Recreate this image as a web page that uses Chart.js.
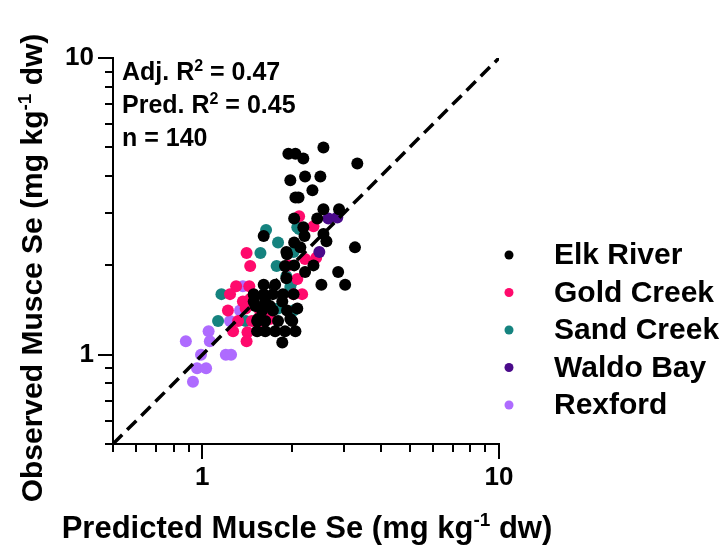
<!DOCTYPE html>
<html>
<head>
<meta charset="utf-8">
<script src="https://cdn.jsdelivr.net/npm/chart.js@4/dist/chart.umd.min.js"></script>
<style>
  html, body { margin: 0; padding: 0; background: #ffffff; }
  #c { display: block; }
</style>
</head>
<body>
<canvas id="c" width="725" height="549"></canvas>
<script>
// Site names and marker colours
const siteNames  = ['Elk River', 'Gold Creek', 'Sand Creek', 'Waldo Bay', 'Rexford'];
const siteColors = ['#000000', '#FF0A6C', '#15837F', '#4A0A8A', '#AE6BFF'];

// Predicted vs observed muscle Se (mg kg-1 dw), one pair of arrays per site
const elkPredicted = [2.56,1.95,2.06,2.19,3.33,1.98,2.22,2.50,2.35,2.06,2.11,2.56,2.89,2.04,2.44,2.19,1.61,2.21,2.56,2.62,3.27,1.92,2.04,2.14,2.04,2.37,2.22,2.87,2.52,3.03,1.92,1.61,1.76,1.93,1.90,1.49,1.61,1.73,1.87,2.03,1.49,1.63,1.86,1.93,1.53,1.63,1.80,2.01,1.53,1.63,1.76,1.90,2.06,1.86,1.51,1.69,1.98,1.54,1.73,1.59,2.09];
const elkObserved  = [4.99,4.76,4.76,4.58,4.41,3.87,3.99,3.99,3.58,3.39,3.39,3.09,3.09,2.88,2.88,2.69,2.51,2.51,2.55,2.41,2.30,2.22,2.39,2.30,2.00,2.00,1.90,1.90,1.72,1.72,1.81,1.72,1.72,2.18,1.99,1.60,1.60,1.60,1.60,1.60,1.51,1.51,1.51,1.41,1.30,1.30,1.30,1.30,1.20,1.20,1.20,1.20,1.20,1.10,1.46,1.46,1.32,1.32,1.41,1.41,1.43];

const goldPredicted = [1.41,1.45,1.30,1.24,1.44,1.37,1.22,1.32,1.42,1.57,1.66,2.09,2.17,2.03,1.95,2.22,2.42,2.12,2.37,1.27,1.41,1.47,1.57,1.45,1.40,1.69];
const goldObserved  = [2.20,1.99,1.70,1.60,1.70,1.51,1.41,1.30,1.19,1.39,1.39,1.80,1.60,1.60,2.00,2.10,2.12,2.93,2.71,1.20,1.11,1.30,1.30,1.54,1.43,1.32];

const sandPredicted = [1.64,1.80,1.57,1.78,1.16,1.13,2.03,1.92,2.12,1.40,1.98,2.01,2.03,2.09,1.80];
const sandObserved  = [2.63,2.39,2.20,1.99,1.60,1.30,1.41,1.84,2.65,1.30,1.69,1.76,2.22,2.69,1.43];

const waldoPredicted = [2.66,2.85,2.48];
const waldoObserved  = [2.88,2.90,2.22];

const rexPredicted = [0.88,1.05,1.06,0.99,1.20,1.25,0.96,1.03,0.93,1.24,1.34,1.37];
const rexObserved  = [1.11,1.20,1.11,1.00,1.00,1.00,0.90,0.90,0.81,1.30,1.41,1.70];

// 1:1 reference line end points
const oneToOne = [0.5, 10];

// Log axis ticks (both axes) and the ones that carry a label
const axisTicks   = [0.5,0.6,0.7,0.8,0.9,1,2,3,4,5,6,7,8,9,10];
const labeledTicks = [1, 10];

// Fit statistics printed in the plot corner
const statLines = [
  [{t: 'Adj. R'}, {t: '2', sup: true}, {t: ' = 0.47'}],
  [{t: 'Pred. R'}, {t: '2', sup: true}, {t: ' = 0.45'}],
  [{t: 'n = 140'}]
];
const xTitle = [{t: 'Predicted Muscle Se (mg kg'}, {t: '-1', sup: true}, {t: ' dw)'}];
const yTitle = [{t: 'Observed Musce Se (mg kg'}, {t: '-1', sup: true}, {t: ' dw)'}];

const FONT = "'Liberation Sans', Arial, Helvetica, sans-serif";

function pairs(xs, ys) { return xs.map((x, i) => ({x: x, y: ys[i]})); }

const siteSeries = [
  pairs(elkPredicted, elkObserved),
  pairs(goldPredicted, goldObserved),
  pairs(sandPredicted, sandObserved),
  pairs(waldoPredicted, waldoObserved),
  pairs(rexPredicted, rexObserved)
];
const drawOrder = [1, 3, 4, 2, 5];

const datasets = siteSeries.map((pts, i) => ({
  label: siteNames[i],
  data: pts,
  backgroundColor: siteColors[i],
  borderColor: siteColors[i],
  borderWidth: 0,
  pointRadius: 6,
  pointHoverRadius: 6,
  order: drawOrder[i]
}));
datasets.push({
  label: '1:1',
  data: oneToOne.map(v => ({x: v, y: v})),
  showLine: true,
  borderColor: '#000000',
  borderWidth: 3.5,
  borderDash: [13, 7],
  pointRadius: 0,
  fill: false,
  order: 0,
  isReference: true
});

// text with superscript pieces
function richWidth(ctx, parts, size) {
  let w = 0;
  parts.forEach(p => {
    ctx.font = 'bold ' + (p.sup ? Math.round(size * 0.62) : size) + 'px ' + FONT;
    w += ctx.measureText(p.t).width;
  });
  return w;
}
function drawRich(ctx, parts, x, y, size, align) {
  const w = richWidth(ctx, parts, size);
  let cx = align === 'center' ? x - w / 2 : x;
  ctx.textBaseline = 'alphabetic';
  ctx.textAlign = 'left';
  parts.forEach(p => {
    const s = p.sup ? Math.round(size * 0.62) : size;
    ctx.font = 'bold ' + s + 'px ' + FONT;
    ctx.fillText(p.t, cx, p.sup ? y - size * 0.38 : y);
    cx += ctx.measureText(p.t).width;
  });
}

const decorPlugin = {
  id: 'decor',
  afterDraw(chart) {
    const ctx = chart.ctx;
    const xs = chart.scales.x, ys = chart.scales.y;
    const area = chart.chartArea;
    ctx.save();
    ctx.strokeStyle = '#000';
    ctx.fillStyle = '#000';
    ctx.lineWidth = 2;
    ctx.lineCap = 'butt';
    // tick marks
    axisTicks.forEach(v => {
      const major = labeledTicks.includes(v);
      const len = major ? 15 : 8;
      const px = Math.round(xs.getPixelForValue(v));
      ctx.beginPath();
      ctx.moveTo(px, area.bottom);
      ctx.lineTo(px, area.bottom + len);
      ctx.stroke();
      const py = Math.round(ys.getPixelForValue(v));
      ctx.beginPath();
      ctx.moveTo(area.left, py);
      ctx.lineTo(area.left - len, py);
      ctx.stroke();
    });
    // statistics
    statLines.forEach((line, i) => drawRich(ctx, line, 122, 80 + i * 33, 25, 'left'));
    // axis titles
    drawRich(ctx, xTitle, 307, 538, 31, 'center');
    ctx.save();
    ctx.translate(42, 268);
    ctx.rotate(-Math.PI / 2);
    drawRich(ctx, yTitle, 0, 0, 30, 'center');
    ctx.restore();
    // legend
    const items = chart.data.datasets.filter(d => !d.isReference);
    items.forEach((d, i) => {
      const cy = 255 + i * 37.5;
      ctx.beginPath();
      ctx.fillStyle = d.backgroundColor;
      ctx.arc(509, cy, 4.5, 0, Math.PI * 2);
      ctx.fill();
      ctx.fillStyle = '#000';
      ctx.font = 'bold 30px ' + FONT;
      ctx.textAlign = 'left';
      ctx.textBaseline = 'middle';
      ctx.fillText(d.label, 554, cy + 1);
    });
    ctx.restore();
  }
};

function logAxis(extra) {
  return Object.assign({
    type: 'logarithmic',
    min: 0.5,
    max: 10,
    grid: { display: false, drawTicks: false },
    border: { display: true, color: '#000', width: 2 },
    ticks: {
      autoSkip: false,
      maxRotation: 0,
      color: '#000',
      font: { family: FONT, size: 26, weight: 'bold' },
      callback: v => labeledTicks.includes(v) ? String(v) : ''
    },
    afterBuildTicks: s => { s.ticks = axisTicks.map(v => ({value: v, major: labeledTicks.includes(v)})); }
  }, extra);
}

const xAxis = logAxis({ position: 'bottom' });
xAxis.ticks.padding = 18;
xAxis.afterFit = s => { s.height = 105; s.paddingLeft = 0; s.paddingRight = 0; s.paddingTop = 0; s.paddingBottom = 0; };
const yAxis = logAxis({ position: 'left' });
yAxis.ticks.padding = 19;
yAxis.afterFit = s => { s.width = 113; s.paddingLeft = 0; s.paddingRight = 0; s.paddingTop = 0; s.paddingBottom = 0; };

new Chart(document.getElementById('c'), {
  type: 'scatter',
  data: { datasets: datasets },
  options: {
    responsive: false,
    devicePixelRatio: 1,
    animation: false,
    events: [],
    layout: { padding: { top: 58, right: 226, bottom: 0, left: 0 } },
    plugins: { legend: { display: false }, tooltip: { enabled: false }, title: { display: false } },
    scales: { x: xAxis, y: yAxis }
  },
  plugins: [decorPlugin]
});
</script>
</body>
</html>
